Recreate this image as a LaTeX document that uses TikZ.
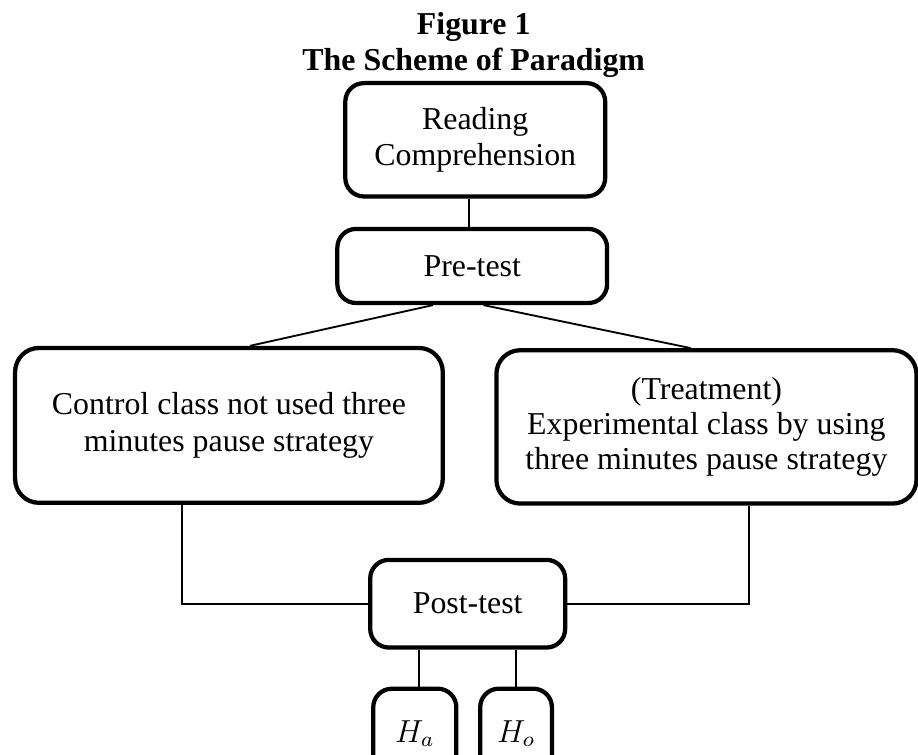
\documentclass[tikz,border=0pt]{standalone}
\usepackage{fontspec}
\setmainfont{Liberation Serif}
\usepackage{amsmath}
\usepackage{tikz}

\begin{document}
\begin{tikzpicture}[font=\fontsize{12pt}{13.8pt}\selectfont,
    box/.style={draw, line width=1.6pt, rounded corners=7pt, align=center, inner sep=0pt},
    bigbox/.style={box, rounded corners=9pt},
    link/.style={line width=0.7pt}]
    \useasboundingbox (0,0) rectangle (12.15,-9.98);

    \node[font=\fontsize{12pt}{13.6pt}\selectfont\bfseries, align=center] (title) at (6.27,-0.60) {Figure 1\\The Scheme of Paradigm};

    \node[box, minimum width=3.44cm, minimum height=1.50cm] (read) at (6.29,-1.85) {Reading\\Comprehension};
    \node[box, minimum width=3.57cm, minimum height=0.98cm] (pre)  at (6.25,-3.52) {Pre-test};

    \node[bigbox, minimum width=5.66cm, minimum height=2.05cm] (ctrl) at (3.03,-5.63) {Control class not used three\\minutes pause strategy};
    \node[bigbox, minimum width=5.56cm, minimum height=2.03cm, font=\fontsize{12pt}{13pt}\selectfont] (expt) at (9.35,-5.65) {(Treatment)\\Experimental class by using\\three minutes pause strategy};

    \node[box, minimum width=2.58cm, minimum height=1.16cm] (post) at (6.19,-7.99) {Post-test};

    \node[box, minimum width=1.10cm, minimum height=1.19cm] (ha) at (5.49,-9.71) {$H_a$};
    \node[box, minimum width=0.95cm, minimum height=1.19cm] (ho) at (6.83,-9.71) {$H_o$};

    % connectors
    \draw[link] ([xshift=-0.08cm]read.south) -- ([xshift=-0.08cm]read.south |- pre.north);
    \draw[link] ([xshift=-0.52cm]pre.south) -- ([xshift=0.28cm]ctrl.north);
    \draw[link] ([xshift=0.15cm]pre.south) -- ([xshift=-0.21cm]expt.north);
    \draw[link] ([xshift=-0.62cm]ctrl.south) |- (post.west);
    \draw[link] ([xshift=0.56cm]expt.south) |- (post.east);
    \draw[link] ([xshift=0.06cm]ha.north) -- ([xshift=0.06cm]ha.north |- post.south);
    \draw[link] (ho.north) -- (ho.north |- post.south);
\end{tikzpicture}
\end{document}
